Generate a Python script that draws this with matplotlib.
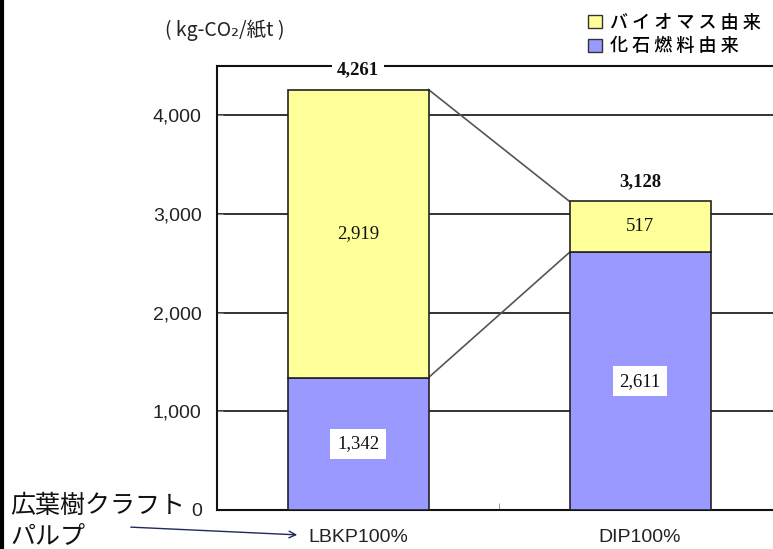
import matplotlib
matplotlib.use('Agg')
import matplotlib.pyplot as plt
from matplotlib.patches import Patch
from matplotlib.lines import Line2D

plt.rcParams['font.family'] = ['Liberation Sans', 'Noto Sans CJK JP', 'DejaVu Sans']
JP = ['Noto Sans CJK JP', 'DejaVu Sans']

categories = ['LBKP100%', 'DIP100%']
fossil = [1342, 2611]
biomass = [2919, 517]
totals = [4261, 3128]
yticks = [0, 1000, 2000, 3000, 4000]
legend_labels = ['バイオマス由来', '化石燃料由来']

c_bio = '#FFFF99'
c_fossil = '#9999FF'

W, H = 773, 549
fig = plt.figure(figsize=(W / 100, H / 100), dpi=100)
ax = fig.add_axes([217 / W, (H - 510) / H, (781 - 217) / W, (510 - 66) / H])

x = list(range(len(categories)))
bw = 0.5
ax.bar(x, fossil, bw, color=c_fossil, edgecolor='#222222', lw=1.2, zorder=3)
ax.bar(x, biomass, bw, bottom=fossil, color=c_bio, edgecolor='#222222', lw=1.2, zorder=3)

# lines joining the two stacks
ax.plot([x[0] + bw / 2, x[1] - bw / 2], [totals[0], totals[1]], color='#555555', lw=1.2, zorder=2)
ax.plot([x[0] + bw / 2, x[1] - bw / 2], [fossil[0], fossil[1]], color='#555555', lw=1.2, zorder=2)

for i in x:
    ax.text(i, fossil[i] / 2, f'{fossil[i]:,}', ha='center', va='center',
            family='Liberation Serif', fontsize=13.5, color='#111111', zorder=4,
            bbox=dict(boxstyle='square,pad=0.35', fc='white', ec='none'))
    ax.text(i, fossil[i] + biomass[i] / 2, f'{biomass[i]:,}', ha='center', va='center',
            family='Liberation Serif', fontsize=13.5, color='#111111', zorder=4)
    ax.annotate(f'{totals[i]:,}', (i, totals[i]), xytext=(0, 14), textcoords='offset points',
                ha='center', va='center', family='Liberation Serif', fontweight='bold',
                fontsize=13.5, color='#111111', zorder=6, annotation_clip=False,
                bbox=dict(boxstyle='square,pad=0.25', fc='white', ec='none'))

ax.set_xlim(-0.5, 1.5)
ax.set_ylim(0, 4500)
ax.set_yticks(yticks)
ax.set_yticklabels([f'{v:,}' for v in yticks])
ax.yaxis.grid(True, color='#111111', lw=1.2, zorder=0)
ax.set_axisbelow(True)
ax.tick_params(axis='y', direction='in', length=4, color='#888888', pad=11,
               labelsize=14, labelcolor='#222222')
ax.set_xticks([0.5], minor=True)
ax.set_xticks(x)
ax.set_xticklabels(categories)
ax.tick_params(axis='x', which='major', length=0, pad=14, labelsize=14, labelcolor='#222222')
ax.tick_params(axis='x', which='minor', direction='in', length=5, color='#888888')
for s in ['left', 'bottom', 'top']:
    ax.spines[s].set_color('#111111')
    ax.spines[s].set_linewidth(1.5)
ax.spines['right'].set_visible(False)

fig.text(165 / W, 1 - 30 / H, '( kg-CO₂/紙t )', ha='left', va='center',
         fontsize=14, color='#222222', family=JP)

handles = [Patch(fc=c_bio, ec='#333333', lw=1), Patch(fc=c_fossil, ec='#333333', lw=1)]
spaced = [' '.join(lbl) for lbl in legend_labels]
leg = fig.legend(handles, spaced, loc='upper left', bbox_to_anchor=(588 / W, 1 - 14 / H),
                 frameon=False, handlelength=0.75, handleheight=0.75, handletextpad=0.45,
                 labelspacing=0.3, borderpad=0, borderaxespad=0,
                 prop={'family': JP, 'size': 13, 'weight': 'medium'})

fig.text(10 / W, 1 - 521 / H, '広葉樹クラフト\nパルプ', ha='left', va='center',
         fontsize=18, family=JP, color='#111111', linespacing=1.2)
fig.add_artist(matplotlib.patches.FancyArrowPatch(
    (128 / W, 1 - 527 / H), (300 / W, 1 - 535 / H), transform=fig.transFigure,
    arrowstyle='->', mutation_scale=12, color='#1F2A5A', lw=1))

fig.add_artist(Line2D([0.002, 0.002], [0, 1], transform=fig.transFigure, color='black', lw=3))

fig.savefig('out.png', dpi=100)
